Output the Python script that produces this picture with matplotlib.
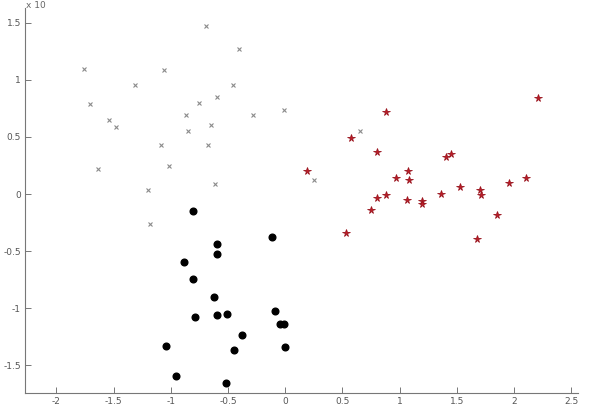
import numpy as np
import matplotlib
matplotlib.use("Agg")
import matplotlib.pyplot as plt

# gray crosses
gray_x = [-1.757, -1.707, -1.544, -1.475, -1.635, -1.312, -1.064, -1.087, -1.017,
          -1.201, -0.692, -0.403, -0.453, -0.592, -0.755, -0.866, -0.846, -0.648,
          -0.677, -0.618, -0.281, -0.013, -1.186, 0.651, 0.252]
gray_y = [1.094, 0.792, 0.646, 0.590, 0.222, 0.959, 1.085, 0.430, 0.248,
          0.032, 1.474, 1.275, 0.959, 0.851, 0.795, 0.690, 0.553, 0.608,
          0.430, 0.088, 0.690, 0.737, -0.263, 0.550, 0.120]

# red stars
red_x = [2.208, 0.878, 0.578, 0.802, 0.194, 1.076, 1.081, 0.965, 1.410, 1.451,
         1.524, 1.361, 1.705, 1.710, 1.958, 2.109, 0.802, 0.878, 1.061, 1.198,
         1.198, 0.753, 1.853, 0.534, 1.681]
red_y = [0.845, 0.722, 0.494, 0.371, 0.199, 0.199, 0.123, 0.137, 0.325, 0.351,
         0.064, 0.003, 0.038, -0.012, 0.099, 0.143, -0.032, -0.012, -0.053, -0.064,
         -0.085, -0.140, -0.181, -0.339, -0.395]

# black dots
black_x = [-0.808, -0.115, -0.596, -0.596, -0.884, -0.802, -0.624, -0.086, -0.793,
           -0.596, -0.505, -0.048, -0.007, -0.380, -1.046, -0.004, -0.447, -0.959, -0.514]
black_y = [-0.152, -0.374, -0.436, -0.523, -0.591, -0.743, -0.901, -1.023, -1.079,
           -1.064, -1.050, -1.140, -1.140, -1.231, -1.333, -1.342, -1.368, -1.594, -1.655]

xticks = [-2, -1.5, -1, -0.5, 0, 0.5, 1, 1.5, 2, 2.5]
xlabels = ["-2", "-1.5", "-1", "-0.5", "0", "0.5", "1", "1.5", "2", "2.5"]
yticks = [-1.5, -1, -0.5, 0, 0.5, 1, 1.5]
ylabels = ["-1.5", "-1", "-0.5", "0", "0.5", "1", "1.5"]

fig = plt.figure(figsize=(5.89, 4.12), dpi=100)
ax = fig.add_axes([25/589, 19/412, 553/589, 385/412])

ax.plot(gray_x, gray_y, "x", color="#8a8a8a", markersize=3.5, markeredgewidth=0.8)
ax.plot(red_x, red_y, "*", color="#c41a24", markersize=5.5, markeredgewidth=0.6,
        markeredgecolor="#9a1620")
ax.plot(black_x, black_y, "o", color="black", markersize=4.8)

ax.set_xlim(-2.275, 2.56)
ax.set_ylim(-1.743, 1.63)
ax.set_xticks(xticks)
ax.set_xticklabels(xlabels)
ax.set_yticks(yticks)
ax.set_yticklabels(ylabels)

for s in ["top", "right"]:
    ax.spines[s].set_visible(False)
for s in ["left", "bottom"]:
    ax.spines[s].set_color("#777777")
    ax.spines[s].set_linewidth(0.8)
ax.tick_params(direction="in", length=4, width=0.7, colors="#777777",
               labelsize=6.5, labelcolor="#555555", pad=3)

fig.text(26/589, 1 - 6/412, "x 10", fontsize=6.5, color="#666666",
         ha="left", va="center")

fig.savefig("out.png", dpi=100)
